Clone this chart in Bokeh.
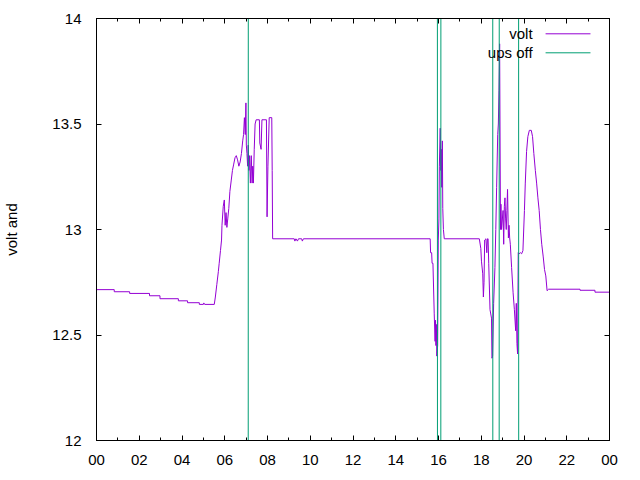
from bokeh.plotting import figure
from bokeh.models import FixedTicker, LinearAxis, Label, Arrow, Range1d
from bokeh.embed import file_html
from bokeh.resources import INLINE

# ---- data (hours of day, volts) ----
volt_t = [0, 0.83, 0.83, 1.55, 1.55, 2.48, 2.48, 2.97, 2.97, 3.83, 3.83, 4.26, 4.26, 4.81, 4.81,
          5.00, 5.02, 5.06, 5.51, 5.56, 5.63, 5.70, 5.74, 5.80, 5.85, 5.87, 5.93, 5.98,
          6.02, 6.06, 6.10, 6.14, 6.19, 6.24, 6.30, 6.36, 6.42, 6.48, 6.54, 6.60, 6.66, 6.72,
          6.78, 6.84, 6.88, 6.92, 6.96, 6.99, 7.01, 7.04, 7.07, 7.10, 7.13, 7.16, 7.20, 7.24,
          7.28, 7.31, 7.34, 7.38, 7.42, 7.47, 7.62, 7.64, 7.70, 7.74, 7.95, 7.98, 8.02, 8.08,
          8.20, 8.22, 8.24, 9.25, 9.28, 9.33, 9.40, 9.45, 9.60, 9.63, 9.68, 15.61, 15.63, 15.68,
          15.70, 15.74, 15.80, 15.84, 15.86, 15.88, 15.90, 15.92, 15.96, 15.99, 16.02, 16.04,
          16.08, 16.11, 16.13, 16.15, 16.18, 16.20, 16.23, 16.27, 17.91, 17.98, 18.01, 18.07,
          18.10, 18.13, 18.16, 18.22, 18.26, 18.29, 18.32, 18.35, 18.41, 18.48, 18.50, 18.53,
          18.58, 18.64, 18.68, 18.72, 18.77, 18.80, 18.83, 18.86, 18.90, 18.92, 18.95, 19.02,
          19.05, 19.08, 19.11, 19.14, 19.17, 19.20, 19.23, 19.27, 19.30, 19.33, 19.36, 19.42,
          19.49, 19.55, 19.61, 19.64, 19.67, 19.70, 19.73, 19.77, 19.83, 19.89, 19.95, 20.02,
          20.06, 20.12, 20.18, 20.25, 20.34, 20.40, 20.46, 20.53, 20.59, 20.65, 20.71, 20.77,
          20.83, 20.90, 20.96, 21.02, 21.08, 21.15, 22.62, 22.62, 23.32, 23.32, 24.0]
volt_v = [12.715, 12.715, 12.705, 12.705, 12.697, 12.697, 12.686, 12.686, 12.672, 12.672, 12.662,
          12.662, 12.653, 12.653, 12.645, 12.645, 12.652, 12.645, 12.645, 12.68, 12.74, 12.80,
          12.84, 12.90, 12.95, 13.02, 13.11, 13.14, 13.02, 13.08, 13.01, 13.05, 13.10, 13.18,
          13.23, 13.28, 13.31, 13.34, 13.35, 13.33, 13.30, 13.32, 13.36, 13.42, 13.45, 13.53,
          13.45, 13.60, 13.40, 13.36, 13.30, 13.40, 13.28, 13.35, 13.22, 13.35, 13.22, 13.30,
          13.22, 13.38, 13.50, 13.52, 13.52, 13.41, 13.38, 13.52, 13.52, 13.06, 13.30, 13.53,
          13.53, 13.28, 12.956, 12.956, 12.945, 12.956, 12.945, 12.956, 12.956, 12.945, 12.956,
          12.956, 12.89, 12.89, 12.84, 12.84, 12.60, 12.47, 12.57, 12.45, 12.55, 12.40, 12.45,
          12.95, 13.05, 13.30, 13.48, 13.28, 13.38, 13.20, 13.42, 13.10, 13.00, 12.956, 12.956,
          12.91, 12.85, 12.79, 12.68, 12.75, 12.95, 12.956, 12.89, 12.956, 12.956, 12.84, 12.62,
          12.58, 12.39, 12.40, 12.65, 12.82, 13.00, 13.20, 13.45, 13.50, 13.66, 13.88, 13.00,
          13.12, 13.00, 13.09, 12.93, 13.11, 13.15, 13.05, 13.00, 13.09, 13.19, 12.96, 13.02,
          12.96, 12.93, 12.82, 12.70, 12.62, 12.52, 12.65, 12.46, 12.41, 12.89, 12.885, 12.89,
          12.885, 12.90, 13.09, 13.22, 13.37, 13.44, 13.47, 13.47, 13.44, 13.36, 13.28, 13.22,
          13.15, 13.09, 13.00, 12.93, 12.87, 12.81, 12.78, 12.71, 12.717, 12.717, 12.712,
          12.712, 12.703, 12.703]

ups_t = [0, 7.08, 7.12, 15.93, 15.97, 16.09, 16.13, 18.52, 18.56, 18.82, 18.86, 19.73, 19.77, 24]
ups_v = [0, 0, 26, 26, 0, 0, 26, 26, 0, 0, 26, 26, 0, 0]

x_ticks = [0, 2, 4, 6, 8, 10, 12, 14, 16, 18, 20, 22, 24]
x_minor = list(range(0, 25))
x_labels = ["00", "02", "04", "06", "08", "10", "12", "14", "16", "18", "20", "22", "00"]
y_ticks = [12, 12.5, 13, 13.5, 14]
y_labels = ["12", "12.5", "13", "13.5", "14"]
series_names = ["volt", "ups off"]

FONT = "Liberation Sans"
FS = "15px"
PURPLE = "#9400d3"
GREEN = "#009e73"

p = figure(width=632, height=472, x_range=Range1d(0, 24), y_range=Range1d(12, 14),
           output_backend="svg", toolbar_location=None,
           min_border_left=95, min_border_right=23, min_border_top=18, min_border_bottom=32)
p.grid.visible = False
p.outline_line_color = "black"
p.outline_line_alpha = 1.0
p.background_fill_color = "white"
p.border_fill_color = "white"

p.line(volt_t, volt_v, line_color=PURPLE, line_width=1)
p.line(ups_t, ups_v, line_color=GREEN, line_width=1)

def style_axis(ax, ticks, minor, labels):
    ax.ticker = FixedTicker(ticks=ticks, minor_ticks=minor)
    ax.major_label_overrides = {t: l for t, l in zip(ticks, labels)}
    ax.axis_line_color = "black"
    ax.major_tick_line_color = "black"
    ax.minor_tick_line_color = "black"
    ax.major_tick_in = 5
    ax.major_tick_out = 0
    ax.minor_tick_in = 3
    ax.minor_tick_out = 0
    ax.major_label_text_font = FONT
    ax.major_label_text_font_size = FS
    ax.major_label_text_color = "black"

xa = p.xaxis[0]
style_axis(xa, x_ticks, x_minor, x_labels)
xa.major_label_standoff = 14

ya = p.yaxis[0]
style_axis(ya, y_ticks, [], y_labels)
ya.major_label_standoff = 15
ya.axis_label = "volt and"
ya.axis_label_text_font = FONT
ya.axis_label_text_font_size = FS
ya.axis_label_text_font_style = "normal"
ya.axis_label_text_color = "black"
ya.axis_label_standoff = 29

top = LinearAxis()
style_axis(top, x_ticks, x_minor, ["" for _ in x_ticks])
top.major_label_text_font_size = "0px"
top.major_label_standoff = 0
p.add_layout(top, "above")

right = LinearAxis()
style_axis(right, y_ticks, [], ["" for _ in y_ticks])
right.major_label_text_font_size = "0px"
right.major_label_standoff = 0
p.add_layout(right, "right")

# legend (gnuplot style: text then sample line), top right inside
leg_rows_y = [13.9275, 13.8374]
leg_colors = [PURPLE, GREEN]
for name, yy, col in zip(series_names, leg_rows_y, leg_colors):
    p.add_layout(Label(x=20.40, y=yy, text=name, text_align="right", text_baseline="middle",
                       text_font=FONT, text_font_size=FS, text_color="black"))
    p.add_layout(Arrow(x_start=21.01, y_start=yy, x_end=23.11, y_end=yy, start=None, end=None,
                       line_color=col, line_width=1))

open("out.html", "w").write(file_html(p, INLINE))
